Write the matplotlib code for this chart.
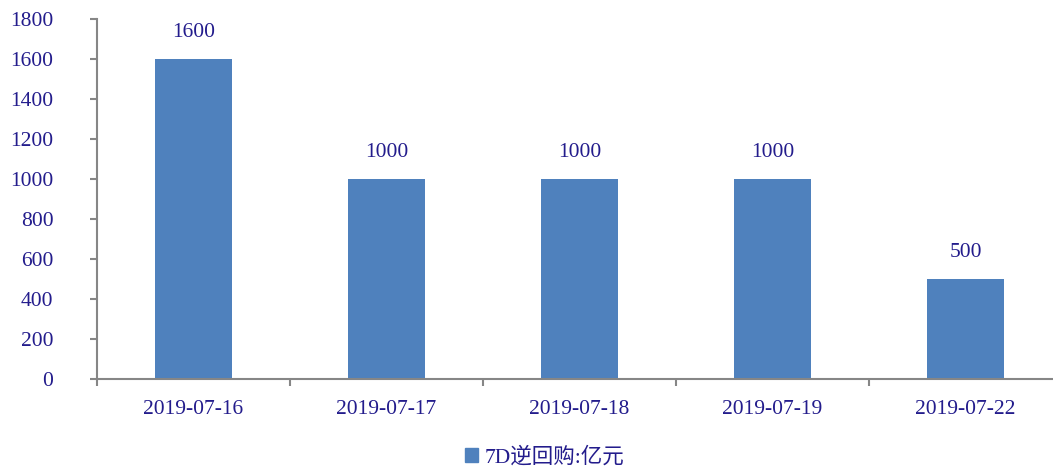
import matplotlib
matplotlib.use("Agg")
import matplotlib.pyplot as plt
import numpy as np
from matplotlib.patches import Patch

categories = ["2019-07-16", "2019-07-17", "2019-07-18", "2019-07-19", "2019-07-22"]
values = [1600, 1000, 1000, 1000, 500]
series_name = "7D逆回购:亿元"
yticks = [0, 200, 400, 600, 800, 1000, 1200, 1400, 1600, 1800]

W, H = 1053, 471
fig = plt.figure(figsize=(W / 100, H / 100), dpi=100)
left, right, top, bottom = 97, 97 + 965, 19, 379
ax = fig.add_axes([left / W, 1 - bottom / H, (right - left) / W, (bottom - top) / H])

txtc = "#231c8c"
bar_color = "#4f81bd"
fam = ["Liberation Serif", "Noto Sans CJK SC"]
fs = 15.5

x = np.arange(len(categories))
ax.bar(x, values, width=0.4, color=bar_color, zorder=2)
for xi, v in zip(x, values):
    ax.annotate(f"{v}", (xi, v), xytext=(0, 12), textcoords="offset points",
                ha="center", va="bottom", fontsize=fs, color=txtc, family=fam)

ax.set_xlim(-0.5, len(categories) - 0.5)
ax.set_ylim(0, 1800)
ax.set_yticks(yticks)
ax.set_yticklabels([str(t) for t in yticks], fontsize=fs, color=txtc, family=fam)
ax.set_xticks(x)
ax.set_xticklabels(categories, fontsize=fs, color=txtc, family=fam)
ax.set_xticks(np.arange(len(categories) + 1) - 0.5, minor=True)
ax.tick_params(axis="x", which="major", length=0, pad=15)
ax.tick_params(axis="x", which="minor", length=5, color="#868686", width=1.5, direction="out")
ax.tick_params(axis="y", length=5, color="#868686", width=1.5, direction="out", pad=26.5)
for s in ["top", "right"]:
    ax.spines[s].set_visible(False)
for s in ["left", "bottom"]:
    ax.spines[s].set_color("#868686")
    ax.spines[s].set_linewidth(1.5)

leg = fig.legend(handles=[Patch(color=bar_color, label=series_name)],
                 loc="center", bbox_to_anchor=(545 / W, 1 - 457 / H), frameon=False,
                 prop={"family": fam, "size": fs}, handlelength=0.6, handleheight=0.6,
                 handletextpad=0.3)
for t in leg.get_texts():
    t.set_color(txtc)

fig.savefig("out.png", dpi=100)
